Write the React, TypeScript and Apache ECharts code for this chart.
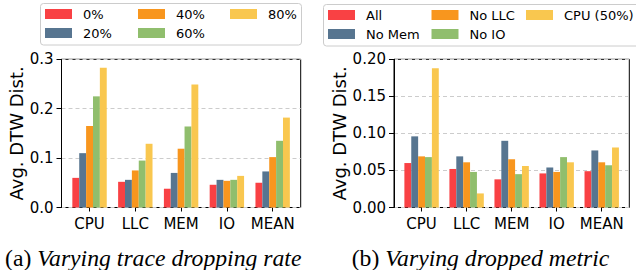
import React, { useEffect, useRef } from 'react';
import * as echarts from 'echarts';

const categories = ['CPU', 'LLC', 'MEM', 'IO', 'MEAN'];

const namesA = ['0%', '20%', '40%', '60%', '80%'];
const valuesA = [
  [0.060, 0.052, 0.038, 0.046, 0.050],
  [0.110, 0.056, 0.070, 0.056, 0.073],
  [0.165, 0.075, 0.119, 0.054, 0.102],
  [0.225, 0.095, 0.164, 0.056, 0.135],
  [0.283, 0.129, 0.249, 0.064, 0.182],
];

const namesB = ['All', 'No Mem', 'No LLC', 'No IO', 'CPU (50%)'];
const valuesB = [
  [0.060, 0.052, 0.038, 0.046, 0.049],
  [0.096, 0.069, 0.090, 0.054, 0.077],
  [0.069, 0.061, 0.065, 0.048, 0.061],
  [0.068, 0.048, 0.045, 0.068, 0.057],
  [0.188, 0.019, 0.056, 0.061, 0.081],
];

const yMaxA = 0.3;
const yStepA = 0.1;
const yMaxB = 0.2;
const yStepB = 0.05;

const colors = ['#F94144', '#577590', '#F8961E', '#90BE6D', '#F9C74F'];

const FONT = 'DejaVu Sans';
const SERIF = 'Liberation Serif';

export default function App() {
  const ref = useRef<HTMLDivElement>(null);

  useEffect(() => {
    if (!ref.current) return;
    const chart = echarts.init(ref.current, undefined, { renderer: 'svg' });
    const idx = categories.map((_, i) => i);

    const xAxisBase = (gridIndex: number) => ({
      type: 'value',
      gridIndex,
      min: -0.6125,
      max: 4.6125,
      axisLine: { show: false, onZero: false },
      axisTick: { show: true, customValues: idx, length: 4, lineStyle: { color: '#000' } },
      axisLabel: {
        customValues: idx,
        formatter: (v: number) => categories[Math.round(v)] ?? '',
        fontFamily: FONT,
        fontSize: 15,
        color: '#000',
        margin: 9,
      },
      splitLine: { show: false },
    });

    const yAxisBase = (gridIndex: number, max: number, step: number, digits: number, gap: number) => ({
      type: 'value',
      gridIndex,
      min: 0,
      max,
      interval: step,
      name: 'Avg. DTW Dist.',
      nameLocation: 'middle',
      nameGap: gap,
      nameTextStyle: { fontFamily: FONT, fontSize: 18, color: '#000' },
      axisLine: { show: true, onZero: false, lineStyle: { color: '#000' } },
      axisTick: { show: true, length: 5, lineStyle: { color: '#000' } },
      axisLabel: {
        formatter: (v: number) => v.toFixed(digits),
        fontFamily: FONT,
        fontSize: 15,
        color: '#000',
        margin: 8,
      },
      splitLine: { show: true, lineStyle: { color: '#cccccc', type: [4, 3], width: 1 } },
    });

    const legendBase = (left: number, top: number, data: string[]) => ({
      left,
      top,
      orient: 'vertical',
      data,
      icon: 'rect',
      itemWidth: 27,
      itemHeight: 10,
      itemGap: 5,
      padding: 0,
      selectedMode: false,
      textStyle: { fontFamily: FONT, fontSize: 13, color: '#000', lineHeight: 14, padding: [0, 0, 0, 6] },
    });

    const mkSeries = (names: string[], values: number[][], axis: number) =>
      names.map((n, s) => ({
        type: 'bar',
        name: n,
        xAxisIndex: axis,
        yAxisIndex: axis,
        data: values[s].map((v, i) => [i, v]),
        barWidth: 6.88,
        barGap: '0%',
        itemStyle: { color: colors[s] },
      }));

    const caption = (x: number, label: string, body: string) => ({
      type: 'text',
      x,
      y: 270,
      style: {
        text: `{a|${label} }{b|${body}}`,
        verticalAlign: 'bottom',
        rich: {
          a: { fontFamily: SERIF, fontSize: 23.7, fill: '#000', verticalAlign: 'bottom' },
          b: { fontFamily: SERIF, fontSize: 23.7, fontStyle: 'italic', fill: '#000', verticalAlign: 'bottom' },
        },
      },
    });

    chart.setOption({
      animation: false,
      grid: [
        { left: 61.5, top: 59.3, width: 239.2, height: 148.2, show: true, borderColor: '#000', borderWidth: 1, backgroundColor: 'transparent' },
        { left: 394, top: 59.3, width: 235.3, height: 148.2, show: true, borderColor: '#000', borderWidth: 1, backgroundColor: 'transparent' },
      ],
      xAxis: [xAxisBase(0), xAxisBase(1)],
      yAxis: [yAxisBase(0, yMaxA, yStepA, 1, 35), yAxisBase(1, yMaxB, yStepB, 2, 42)],
      legend: [
        legendBase(45, 7, [namesA[0], namesA[1]]),
        legendBase(138, 7, [namesA[2], namesA[3]]),
        legendBase(230, 7, [namesA[4]]),
        legendBase(328, 8, [namesB[0], namesB[1]]),
        legendBase(431.5, 8, [namesB[2], namesB[3]]),
        legendBase(526, 8, [namesB[4]]),
      ],
      graphic: [
        { type: 'rect', shape: { x: 40.5, y: 3.5, width: 261, height: 41.5, r: 3 }, style: { fill: 'transparent', stroke: '#cccccc', lineWidth: 1 } },
        { type: 'rect', shape: { x: 323.5, y: 4.5, width: 320, height: 41.5, r: 3 }, style: { fill: 'transparent', stroke: '#cccccc', lineWidth: 1 } },
        caption(5, '(a)', 'Varying trace dropping rate'),
        caption(351.7, '(b)', 'Varying dropped metric'),
      ],
      series: [...mkSeries(namesA, valuesA, 0), ...mkSeries(namesB, valuesB, 1)],
    });

    return () => chart.dispose();
  }, []);

  return <div ref={ref} style={{ width: 636, height: 270, position: 'absolute', left: 0, top: 0, background: '#fff' }} />;
}
